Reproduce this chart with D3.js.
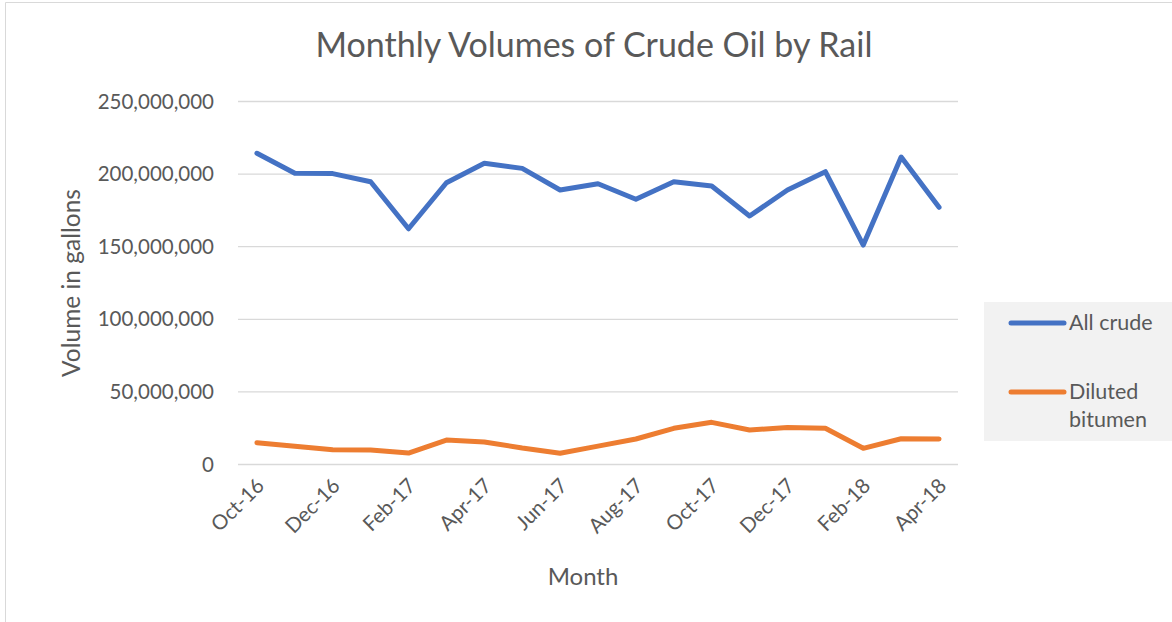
<!DOCTYPE html>
<html lang="en">
  <head>
    <meta charset="utf-8">
    <title>Monthly Volumes of Crude Oil by Rail</title>
    <style>
      body { margin: 0; background: #fff; }
      svg text { font-family: Lato, "Open Sans", sans-serif; fill: #595959; }
    </style>
  </head>
  <body>
    <svg width="1172" height="622"></svg>
    <script src="https://d3js.org/d3.v7.min.js"></script>
    <script>
      // data
      const months = ["Oct-16", "Nov-16", "Dec-16", "Jan-17", "Feb-17", "Mar-17", "Apr-17", "May-17",
        "Jun-17", "Jul-17", "Aug-17", "Sep-17", "Oct-17", "Nov-17", "Dec-17", "Jan-18", "Feb-18", "Mar-18", "Apr-18"]
      const allCrude = [214.0, 200.2, 200.0, 194.4, 162.0, 193.7, 207.1, 203.6, 188.7, 193.0,
        182.3, 194.4, 191.5, 170.8, 188.7, 201.3, 150.8, 211.4, 176.8].map(v => v * 1e6)
      const dilbit = [14.7, 12.3, 9.8, 9.6, 7.5, 16.5, 15.2, 11.0, 7.4, 12.3,
        17.2, 24.6, 28.7, 23.4, 25.1, 24.6, 10.8, 17.4, 17.3].map(v => v * 1e6)
      const yTicks = [0, 50e6, 100e6, 150e6, 200e6, 250e6]
      const seriesNames = ["All crude", "Diluted bitumen"]
      const colors = ["#4472C4", "#ED7D31"]

      const svg = d3.select("svg")

      // outer chart border (only left and top visible)
      svg.append("path")
        .attr("d", "M5.5,622 V2.5 H1172")
        .attr("fill", "none")
        .attr("stroke", "#d9d9d9")

      const plot = {left: 238, right: 958, top: 101, bottom: 464}

      const x = d3.scalePoint().domain(months).range([plot.left, plot.right]).padding(0.5)
      const y = d3.scaleLinear().domain([0, 250e6]).range([plot.bottom, plot.top])

      // gridlines
      svg.append("g")
        .selectAll("line")
        .data(yTicks)
        .join("line")
          .attr("x1", plot.left)
          .attr("x2", plot.right)
          .attr("y1", d => y(d) + 0.5)
          .attr("y2", d => y(d) + 0.5)
          .attr("stroke", "#d9d9d9")
          .attr("stroke-width", 1.3)

      // y axis labels
      const yAxis = svg.append("g")
        .attr("transform", "translate(" + (plot.left - 24) + ",0)")
        .call(d3.axisLeft(y).tickValues(yTicks).tickFormat(d3.format(",")).tickSize(0).tickPadding(0))
      yAxis.select(".domain").remove()
      yAxis.selectAll("text")
        .attr("font-size", 20.5)
        .attr("dy", "0.35em")

      // x axis labels (every other month)
      const xAxis = svg.append("g")
        .attr("transform", "translate(0," + plot.bottom + ")")
        .call(d3.axisBottom(x).tickValues(months.filter((m, i) => i % 2 == 0)).tickSize(0).tickPadding(0))
      xAxis.select(".domain").remove()
      xAxis.selectAll("text")
        .attr("font-size", 20.5)
        .attr("text-anchor", "end")
        .attr("dy", 0)
        .attr("y", 0)
        .attr("transform", "translate(8,23) rotate(-45)")

      // lines
      const line = d3.line()
        .x((d, i) => x(months[i]))
        .y(d => y(d))

      ;[allCrude, dilbit].forEach(function(series, k) {
        svg.append("path")
          .datum(series)
          .attr("d", line)
          .attr("fill", "none")
          .attr("stroke", colors[k])
          .attr("stroke-width", 5)
          .attr("stroke-linejoin", "round")
          .attr("stroke-linecap", "round")
      })

      // title
      svg.append("text")
        .attr("x", 594)
        .attr("y", 57)
        .attr("text-anchor", "middle")
        .attr("font-size", 34)
        .text("Monthly Volumes of Crude Oil by Rail")

      // axis titles
      svg.append("text")
        .attr("x", 583)
        .attr("y", 585)
        .attr("text-anchor", "middle")
        .attr("font-size", 24)
        .text("Month")

      svg.append("text")
        .attr("transform", "translate(80,283) rotate(-90)")
        .attr("text-anchor", "middle")
        .attr("font-size", 24.5)
        .text("Volume in gallons")

      // legend
      svg.append("rect")
        .attr("x", 984)
        .attr("y", 302)
        .attr("width", 200)
        .attr("height", 139)
        .attr("fill", "#f2f2f2")

      const legendRows = [{y: 323, lines: ["All crude"]}, {y: 392, lines: ["Diluted", "bitumen"]}]
      legendRows.forEach(function(row, k) {
        svg.append("line")
          .attr("x1", 1011).attr("x2", 1064)
          .attr("y1", row.y).attr("y2", row.y)
          .attr("stroke", colors[k])
          .attr("stroke-width", 5)
          .attr("stroke-linecap", "round")
        row.lines.forEach(function(t, j) {
          svg.append("text")
            .attr("x", 1069)
            .attr("y", row.y + 7 + j * 28)
            .attr("font-size", 21.5)
            .text(t)
        })
      })
    </script>
  </body>
</html>
